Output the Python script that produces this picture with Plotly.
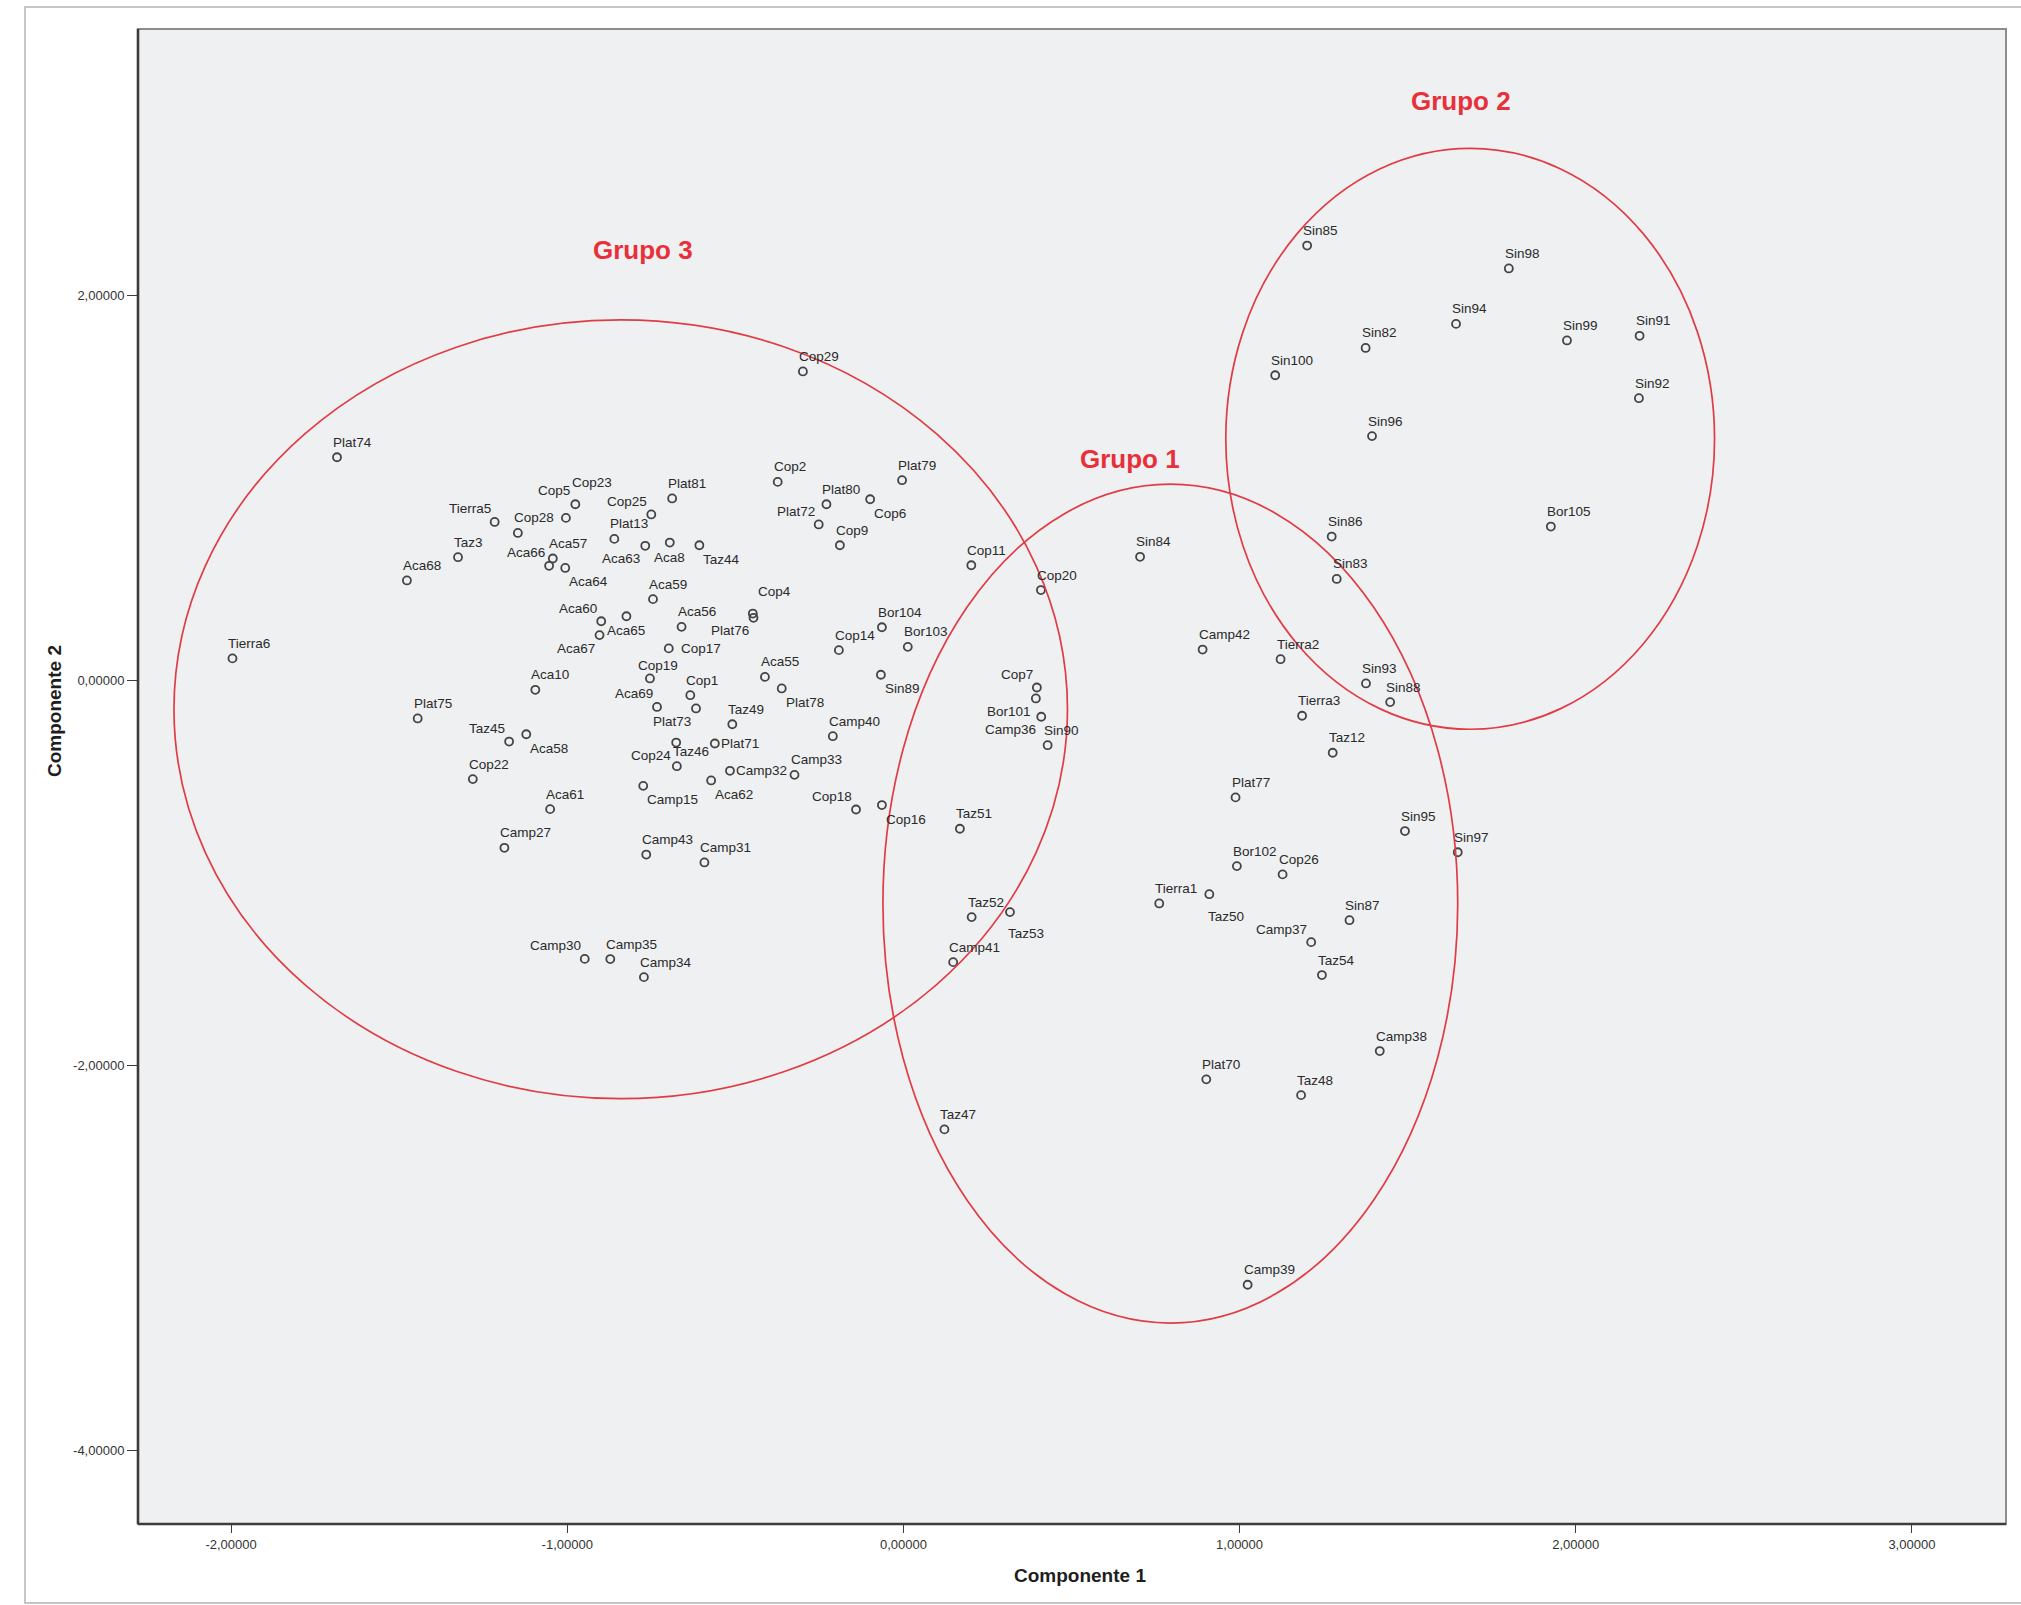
import plotly.graph_objects as go

# ---------------- data ----------------
names = [
    "Aca8", "Aca10", "Aca55", "Aca56", "Aca57", "Aca58", "Aca59", "Aca60", "Aca61",
    "Aca62", "Aca63", "Aca64", "Aca65", "Aca66", "Aca67", "Aca68", "Aca69",
    "Bor101", "Bor102", "Bor103", "Bor104", "Bor105",
    "Camp15", "Camp27", "Camp30", "Camp31", "Camp32", "Camp33", "Camp34", "Camp35",
    "Camp36", "Camp37", "Camp38", "Camp39", "Camp40", "Camp41", "Camp42", "Camp43",
    "Cop1", "Cop2", "Cop4", "Cop5", "Cop6", "Cop7", "Cop9", "Cop11", "Cop14", "Cop16",
    "Cop17", "Cop18", "Cop19", "Cop20", "Cop22", "Cop23", "Cop24", "Cop25", "Cop26",
    "Cop28", "Cop29",
    "Plat13", "Plat70", "Plat71", "Plat72", "Plat73", "Plat74", "Plat75", "Plat76",
    "Plat77", "Plat78", "Plat79", "Plat80", "Plat81",
    "Sin82", "Sin83", "Sin84", "Sin85", "Sin86", "Sin87", "Sin88", "Sin89", "Sin90",
    "Sin91", "Sin92", "Sin93", "Sin94", "Sin95", "Sin96", "Sin97", "Sin98", "Sin99",
    "Sin100",
    "Taz3", "Taz12", "Taz44", "Taz45", "Taz46", "Taz47", "Taz48", "Taz49", "Taz50",
    "Taz51", "Taz52", "Taz53", "Taz54",
    "Tierra1", "Tierra2", "Tierra3", "Tierra5", "Tierra6",
]

componente1 = [
    -0.695, -1.095, -0.412, -0.660, -1.043, -1.122, -0.745, -0.899, -1.051,
    -0.572, -0.768, -1.006, -0.824, -1.054, -0.904, -1.477, -0.733,
    0.394, 0.992, 0.013, -0.064, 1.926,
    -0.774, -1.187, -0.948, -0.592, -0.516, -0.324, -0.772, -0.872,
    0.410, 1.213, 1.417, 1.024, -0.210, 0.148, 0.890, -0.765,
    -0.634, -0.374, -0.448, -1.004, -0.099, 0.397, -0.189, 0.202, -0.192, -0.064,
    -0.698, -0.141, -0.754, 0.409, -1.281, -0.976, -0.676, -0.750, 1.128,
    -1.147, -0.299,
    -0.860, 0.901, -0.561, -0.252, -0.617, -1.685, -1.445, -0.446,
    0.988, -0.362, -0.004, -0.229, -0.688,
    1.375, 1.289, 0.704, 1.201, 1.274, 1.327, 1.448, -0.067, 0.429,
    2.190, 2.188, 1.376, 1.644, 1.492, 1.394, 1.649, 1.801, 1.974,
    1.106,
    -1.325, 1.277, -0.607, -1.173, -0.674, 0.122, 1.183, -0.509, 0.910,
    0.168, 0.203, 0.317, 1.245,
    0.761, 1.122, 1.186, -1.216, -1.996,
]

componente2 = [
    0.715, -0.050, 0.017, 0.277, 0.632, -0.281, 0.421, 0.306, -0.670,
    -0.521, 0.698, 0.583, 0.332, 0.594, 0.234, 0.518, -0.139,
    -0.095, -0.966, 0.173, 0.275, 0.798,
    -0.549, -0.871, -1.448, -0.947, -0.471, -0.492, -1.543, -1.449,
    -0.190, -1.361, -1.927, -3.141, -0.291, -1.465, 0.159, -0.906,
    -0.078, 1.030, 0.346, 0.843, 0.940, -0.038, 0.701, 0.597, 0.156, -0.649,
    0.165, -0.672, 0.009, 0.468, -0.514, 0.914, -0.324, 0.861, -1.009,
    0.765, 1.604,
    0.734, -2.074, -0.329, 0.809, -0.147, 1.158, -0.199, 0.324,
    -0.609, -0.043, 1.039, 0.914, 0.944,
    1.726, 0.526, 0.641, 2.258, 0.746, -1.247, -0.114, 0.028, -0.338,
    1.789, 1.465, -0.017, 1.851, -0.784, 1.268, -0.894, 2.139, 1.765,
    1.584,
    0.639, -0.377, 0.701, -0.319, -0.447, -2.334, -2.156, -0.229, -1.112,
    -0.772, -1.231, -1.205, -1.532,
    -1.160, 0.109, -0.185, 0.822, 0.113,
]

# group ellipses (centre and semi-axes, in component units)
group_names = ["Grupo 1", "Grupo 2", "Grupo 3"]
group_cx = [0.794, 1.686, -0.841]
group_cy = [-1.161, 1.254, -0.151]
group_ax = [0.855, 0.727, 1.329]
group_ay = [2.179, 1.509, 2.023]
group_label_x = [0.675, 1.660, -0.774]
group_label_y = [1.149, 3.010, 2.234]

x_tick_vals = [-2, -1, 0, 1, 2, 3]
x_tick_text = ["-2,00000", "-1,00000", "0,00000", "1,00000", "2,00000", "3,00000"]
y_tick_vals = [2, 0, -2, -4]
y_tick_text = ["2,00000", "0,00000", "-2,00000", "-4,00000"]

# ---------------- styles ----------------
FONT = "Liberation Sans, Arial, Helvetica, sans-serif"
RED_LINE = "#e03c46"
RED_TEXT = "#e8303a"
PT_COLOR = "#444444"
TXT_COLOR = "#2a2a2a"

# label placement presets: (xanchor, xshift, yshift) relative to the marker
PLACE = {
    "tr": ("left", -5, 15),
    "tl": ("right", -3, 13),
    "br": ("left", 3, -14),
    "bl": ("right", -4, -13),
    "mr": ("left", 5, 0),
    "bc": ("center", 0, -15),
}
label_place = {
    "Aca8": "bc", "Aca58": "br", "Aca60": "tl", "Aca62": "br", "Aca63": "bl",
    "Aca64": "br", "Aca66": "tl", "Aca67": "bl", "Aca69": "tl",
    "Bor101": "bl", "Camp15": "br", "Camp30": "tl", "Camp32": "mr", "Camp36": "bl",
    "Camp37": "tl", "Cop6": "br", "Cop7": "tl", "Cop16": "br", "Cop18": "tl",
    "Cop24": "bl", "Cop25": "tl", "Plat71": "mr", "Plat72": "tl", "Plat73": "bl",
    "Plat76": "bl", "Plat78": "br", "Sin89": "br", "Taz44": "br", "Taz45": "tl",
    "Tierra5": "tl",
}
label_custom = {
    "Cop5": ("right", 5, 27),
    "Cop23": ("left", -4, 22),
    "Cop4": ("left", 4, 22),
    "Cop19": ("left", -13, 13),
    "Cop17": ("left", 11, 0),
    "Aca65": ("left", -20, -14),
    "Taz50": ("left", -2, -22),
    "Taz53": ("left", -3, -21),
}

W, H = 2021, 1605
L, R, T, B = 138, 15, 29, 81

fig = go.Figure()

fig.add_trace(go.Scatter(
    x=componente1, y=componente2, mode="markers",
    marker=dict(symbol="circle-open", size=8, color=PT_COLOR,
                line=dict(width=1.8, color=PT_COLOR)),
    hovertext=names, hoverinfo="text", showlegend=False,
))

annotations = []
for n, xv, yv in zip(names, componente1, componente2):
    if n in label_custom:
        xa, xs, ys = label_custom[n]
    else:
        xa, xs, ys = PLACE[label_place.get(n, "tr")]
    annotations.append(dict(
        x=xv, y=yv, xref="x", yref="y", text=n, showarrow=False,
        xanchor=xa, yanchor="middle", xshift=xs, yshift=ys, borderpad=0,
        font=dict(family=FONT, size=13.5, color=TXT_COLOR),
    ))

shapes = []
for cx, cy, ax_, ay_ in zip(group_cx, group_cy, group_ax, group_ay):
    shapes.append(dict(type="circle", xref="x", yref="y",
                       x0=cx - ax_, x1=cx + ax_, y0=cy - ay_, y1=cy + ay_,
                       line=dict(color=RED_LINE, width=1.7), layer="above"))

for g, gx, gy in zip(group_names, group_label_x, group_label_y):
    annotations.append(dict(
        x=gx, y=gy, xref="x", yref="y", text="<b>%s</b>" % g, showarrow=False,
        xanchor="center", yanchor="middle",
        font=dict(family=FONT, size=26, color=RED_TEXT),
    ))

# plot frame: thin grey box, darker left / bottom axis lines
shapes.append(dict(type="rect", xref="paper", yref="paper", x0=0, x1=1, y0=0, y1=1,
                   line=dict(color="#8c8c8c", width=2), layer="above"))
shapes.append(dict(type="line", xref="paper", yref="paper", x0=0, x1=0, y0=0, y1=1,
                   line=dict(color="#3c3c3c", width=2.6), layer="above"))
shapes.append(dict(type="line", xref="paper", yref="paper", x0=0, x1=1, y0=0, y1=0,
                   line=dict(color="#3c3c3c", width=2.6), layer="above"))
# outer figure frame
pw = W - L - R
ph = H - T - B
shapes.append(dict(type="rect", xref="paper", yref="paper",
                   x0=(25 - L) / pw, x1=(W + 10 - L) / pw,
                   y0=-(H - 2 - (H - B)) / ph, y1=1 + (T - 7) / ph,
                   line=dict(color="#b4b4b4", width=1.5), layer="below"))

# axis titles
annotations.append(dict(
    x=(1080 - L) / pw, y=-(1575 - (H - B)) / ph, xref="paper", yref="paper",
    text="<b>Componente 1</b>", showarrow=False, xanchor="center", yanchor="middle",
    font=dict(family=FONT, size=19, color="#1e1e1e"),
))
annotations.append(dict(
    x=(54 - L) / pw, y=((H - B) - 711) / ph, xref="paper", yref="paper",
    text="<b>Componente 2</b>", showarrow=False, xanchor="center", yanchor="middle",
    textangle=-90, font=dict(family=FONT, size=19, color="#1e1e1e"),
))

fig.update_layout(
    width=W, height=H,
    margin=dict(l=L, r=R, t=T, b=B),
    paper_bgcolor="white",
    plot_bgcolor="#eff0f2",
    font=dict(family=FONT, color="#333333"),
    showlegend=False,
    shapes=shapes,
    annotations=annotations,
    xaxis=dict(
        range=[-2.277, 3.280], showgrid=False, zeroline=False, showline=False,
        tickvals=x_tick_vals, ticktext=x_tick_text,
        ticks="outside", ticklen=8, tickwidth=1.4, tickcolor="#3c3c3c",
        tickfont=dict(family=FONT, size=13, color="#333333"),
    ),
    yaxis=dict(
        range=[-4.384, 3.383], showgrid=False, zeroline=False, showline=False,
        tickvals=y_tick_vals, ticktext=y_tick_text,
        ticks="outside", ticklen=10, tickwidth=1.4, tickcolor="#3c3c3c",
        tickfont=dict(family=FONT, size=13, color="#333333"),
    ),
)

fig.write_html(
    "out.html",
    config={"displayModeBar": False},
    post_script="document.body.style.margin='0';document.body.style.overflow='hidden';",
)
